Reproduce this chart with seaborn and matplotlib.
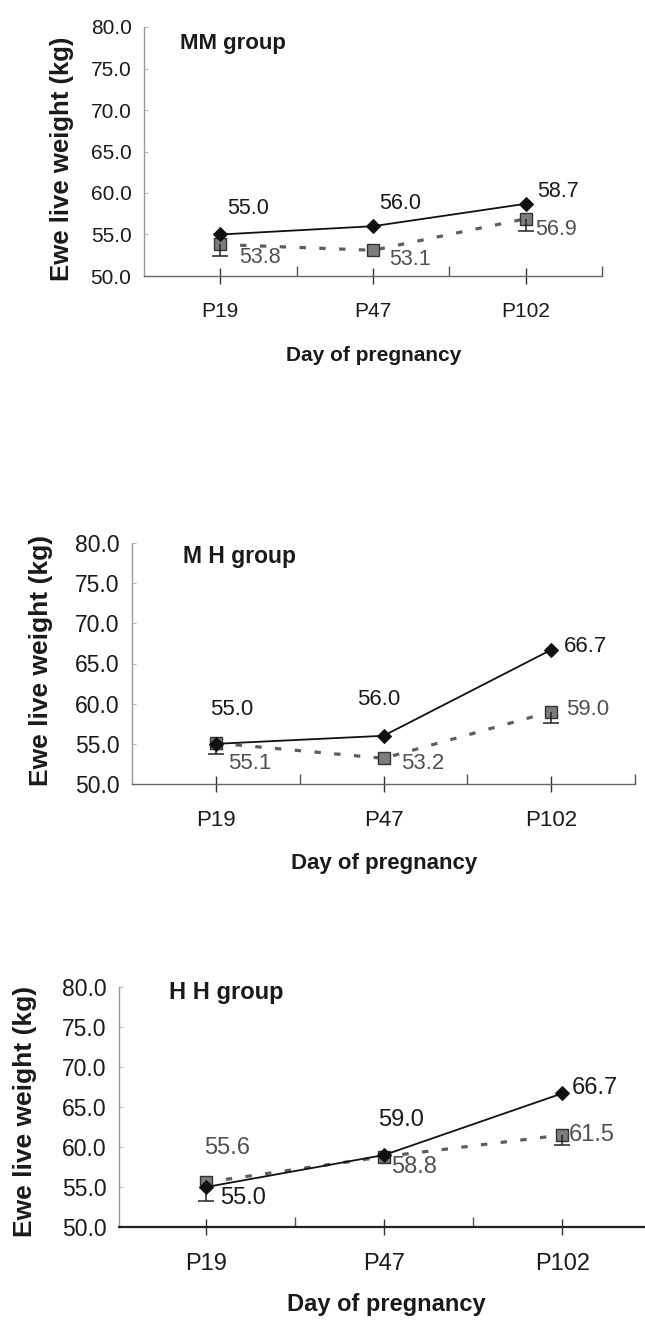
import numpy as np
import pandas as pd
import matplotlib
matplotlib.use("Agg")
import matplotlib.pyplot as plt
import seaborn as sns
from matplotlib.ticker import FixedLocator

sns.set_theme(style="white")
plt.rcParams["font.family"] = ["Liberation Sans", "DejaVu Sans"]

# ---------------- data ----------------
days = ["P19", "P47", "P102"]

mm_control = [55.0, 56.0, 58.7]
mm_treat = [53.8, 53.1, 56.9]
mm_treat_err = [1.4, 0.0, 1.5]

mh_control = [55.0, 56.0, 66.7]
mh_treat = [55.1, 53.2, 59.0]
mh_treat_err = [1.4, 0.0, 1.4]

hh_control = [55.0, 59.0, 66.7]
hh_treat = [55.6, 58.8, 61.5]
hh_treat_err = [2.4, 0.0, 1.25]

group_titles = ["MM group", "M H group", "H H group"]
y_ticks = [50.0, 55.0, 60.0, 65.0, 70.0, 75.0, 80.0]
y_label = "Ewe live weight (kg)"
x_label = "Day of pregnancy"

# ---------------- layout / style ----------------
W, H = 645, 1322
panels = [
    dict(c=mm_control, t=mm_treat, e=mm_treat_err, title=group_titles[0],
         box=(144, 602, 27, 276), xlim=(-0.5, 2.5),
         tick_fs=15, lab_fs=15.5, xt_fs=15, ttl_fs=16, yl_fs=18.5, xl_fs=15,
         ylab_xy=(-0.179, 0.47), xlab_xy=(0.502, -0.32), title_xy=(0.079, 0.935),
         off_c=[(28, -26), (27, -23), (32, -12)],
         off_t=[(40, 13), (37, 9), (30, 11)],
         bottom_col="#666666", bottom_lw=1.0),
    dict(c=mh_control, t=mh_treat, e=mh_treat_err, title=group_titles[1],
         box=(132, 635, 543, 784), xlim=(-0.5, 2.5),
         tick_fs=16.5, lab_fs=16, xt_fs=16, ttl_fs=16.5, yl_fs=19, xl_fs=16,
         ylab_xy=(-0.181, 0.514), xlab_xy=(0.501, -0.328), title_xy=(0.101, 0.942),
         off_c=[(16, -34), (-5, -36), (34, -3)],
         off_t=[(34, 20), (39, 5), (36, -2)],
         bottom_col="#666666", bottom_lw=1.0),
    dict(c=hh_control, t=hh_treat, e=hh_treat_err, title=group_titles[2],
         box=(119, 645, 987, 1227), xlim=(-0.49, 2.465),
         tick_fs=16.5, lab_fs=17, xt_fs=17, ttl_fs=17, yl_fs=19, xl_fs=17,
         ylab_xy=(-0.179, 0.483), xlab_xy=(0.508, -0.325), title_xy=(0.095, 0.975),
         off_c=[(37, 11), (17, -35), (33, -5)],
         off_t=[(21, -34), (30, 10), (30, 0)],
         bottom_col="#222222", bottom_lw=1.6),
]

fig = plt.figure(figsize=(W / 100, H / 100), dpi=100)
fig.patch.set_facecolor("white")

for p in panels:
    l, r, t, b = p["box"]
    ax = fig.add_axes([l / W, 1 - b / H, (r - l) / W, (b - t) / H])
    ax.set_facecolor("white")

    df_t = pd.DataFrame({"day": days, "w": p["t"]})
    df_c = pd.DataFrame({"day": days, "w": p["c"]})

    # dashed grey series with squares
    sns.lineplot(data=df_t, x="day", y="w", ax=ax, sort=False,
                 color="#5e5e5e", linewidth=2.3, linestyle=(0, (2.0, 4.2)),
                 marker="s", markersize=8, markerfacecolor="#7d7d7d",
                 markeredgecolor="#333333", markeredgewidth=1.0, zorder=3)
    # error bars (minus only)
    xs = np.arange(len(days))
    err = np.array(p["e"])
    m = err > 0
    yv = np.array(p["t"])[m]
    _, caps, _ = ax.errorbar(xs[m], yv, yerr=[err[m], np.zeros(m.sum())],
                             fmt="none", ecolor="#222222", elinewidth=1.1,
                             capsize=6, capthick=1.1, zorder=4)
    for cl in caps:
        if np.allclose(np.asarray(cl.get_ydata(), dtype=float), yv):
            cl.set_visible(False)
    # solid black series with diamonds
    sns.lineplot(data=df_c, x="day", y="w", ax=ax, sort=False,
                 color="#111111", linewidth=1.3, marker="D", markersize=7,
                 markerfacecolor="#111111", markeredgecolor="#111111", zorder=5)

    # data labels (offsets given in image pixels, y downward)
    for i, v in enumerate(p["c"]):
        dx, dy = p["off_c"][i]
        ax.annotate(f"{v:.1f}", (i, v), xytext=(dx, -dy),
                    textcoords="offset pixels", ha="center", va="center",
                    fontsize=p["lab_fs"], color="#1a1a1a", zorder=6)
    for i, v in enumerate(p["t"]):
        dx, dy = p["off_t"][i]
        ax.annotate(f"{v:.1f}", (i, v), xytext=(dx, -dy),
                    textcoords="offset pixels", ha="center", va="center",
                    fontsize=p["lab_fs"], color="#505050", zorder=6)

    # axes
    ax.set_xlim(*p["xlim"])
    ax.set_ylim(50, 80)
    ax.set_yticks(y_ticks)
    ax.set_yticklabels([f"{v:.1f}" for v in y_ticks], fontsize=p["tick_fs"], color="#1a1a1a")
    ax.set_xticks(range(len(days)))
    ax.set_xticklabels(days, fontsize=p["xt_fs"], color="#1a1a1a")
    ax.xaxis.set_minor_locator(FixedLocator([0.5, 1.5, 2.5]))
    ax.tick_params(axis="x", which="major", direction="inout", length=12, width=1.0,
                   color="#333333", pad=13, bottom=True)
    ax.tick_params(axis="x", which="minor", direction="in", length=7, width=1.0,
                   color="#555555", bottom=True)
    ax.tick_params(axis="y", which="major", direction="in", length=3, width=0.8,
                   color="#bbbbbb", pad=9, left=True)

    for s in ["top", "right"]:
        ax.spines[s].set_visible(False)
    ax.spines["left"].set_color("#9a9a9a")
    ax.spines["left"].set_linewidth(1.0)
    ax.spines["bottom"].set_color(p["bottom_col"])
    ax.spines["bottom"].set_linewidth(p["bottom_lw"])
    ax.grid(False)

    ax.set_ylabel(y_label, fontsize=p["yl_fs"], fontweight="bold", color="#1a1a1a")
    ax.yaxis.set_label_coords(*p["ylab_xy"])
    ax.yaxis.label.set_va("center")
    ax.set_xlabel(x_label, fontsize=p["xl_fs"], fontweight="bold", color="#1a1a1a")
    ax.xaxis.set_label_coords(*p["xlab_xy"])
    ax.xaxis.label.set_va("center")

    ax.text(p["title_xy"][0], p["title_xy"][1], p["title"], transform=ax.transAxes,
            ha="left", va="center", fontsize=p["ttl_fs"], fontweight="bold",
            color="#1a1a1a")

fig.savefig("out.png", dpi=100, facecolor="white")
